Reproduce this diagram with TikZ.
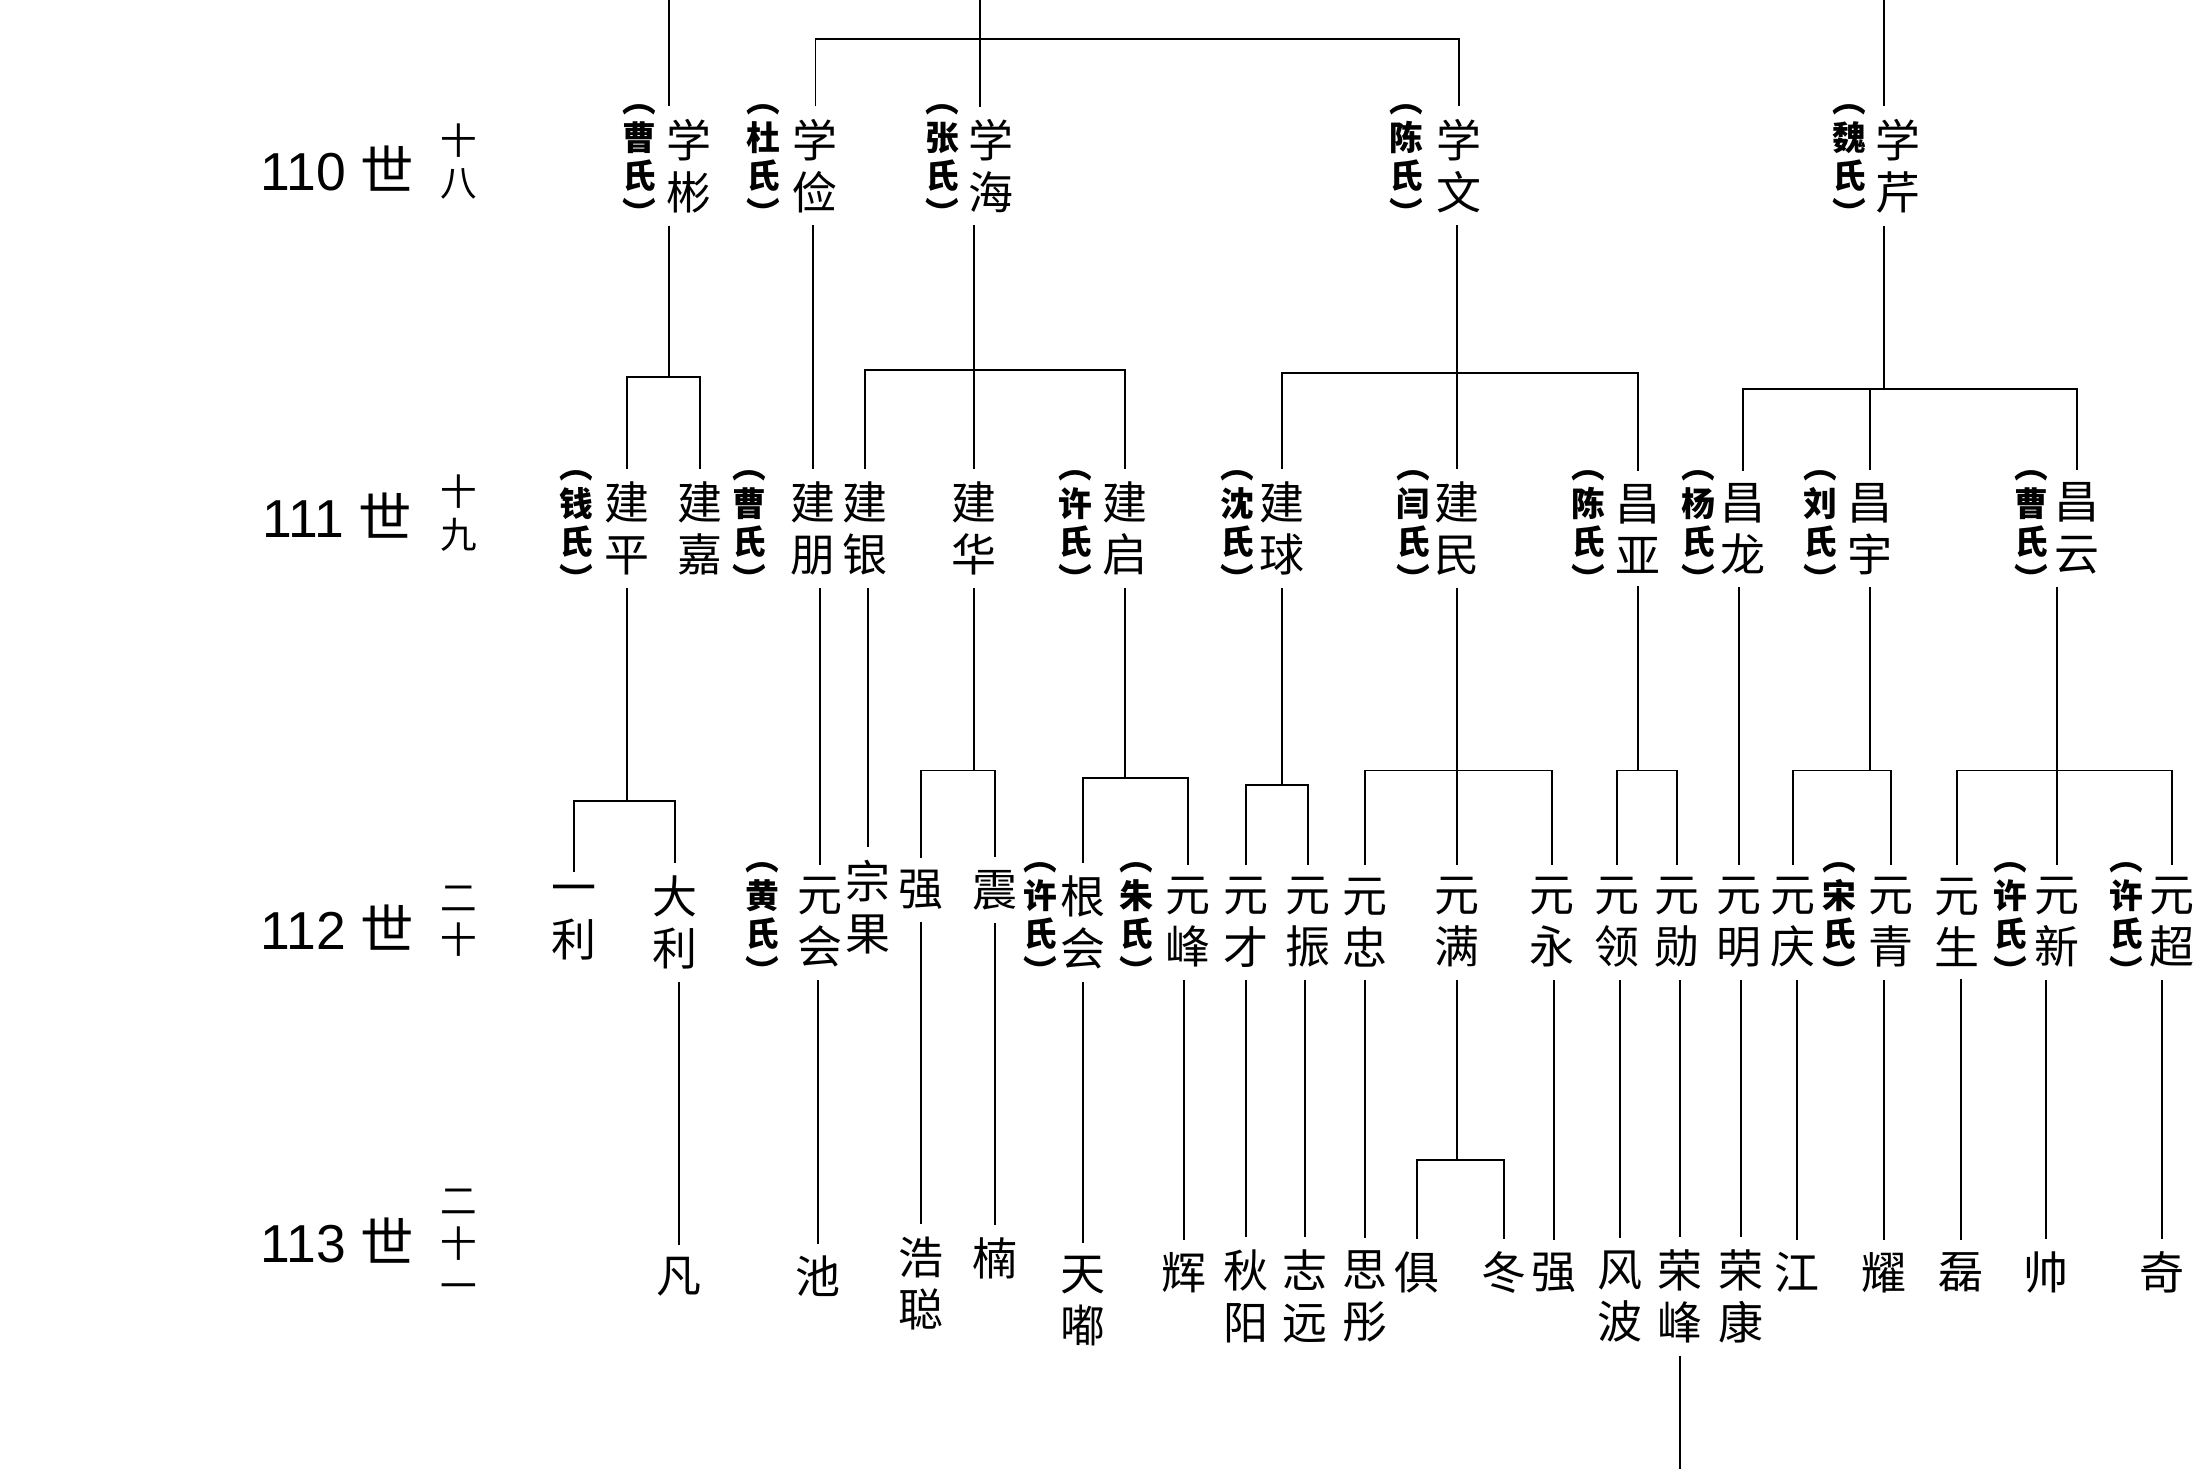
\documentclass[tikz,border=0pt]{standalone}
\usepackage{fontspec}
\setmainfont{Liberation Sans}
\newfontfamily\cjk{Noto Sans CJK SC}
\usetikzlibrary{positioning}

\tikzset{
  nm/.style={font=\cjk\fontsize{32}{37}\selectfont,align=center,inner sep=0pt,outer sep=9pt},
  sp/.style={font=\cjk\bfseries\fontsize{24}{27}\selectfont,align=center,inner sep=0pt},
  gen/.style={font=\fontsize{38}{42}\selectfont,inner sep=0pt},
  gnum/.style={font=\cjk\fontsize{26}{30}\selectfont,align=center,inner sep=0pt},
  ln/.style={line width=1.4pt}
}
% fork from a parent to its first and last child, bar at height #2
\newcommand\forkto[4]{%
  \draw[ln] (#1.south) -- (#1.south |- 0,#2);
  \draw[ln] (#3.north) -- (#3.north |- 0,#2) -- (#4.north |- 0,#2) -- (#4.north);}
\newcommand\linkto[2]{\draw[ln] (#2.north |- #1.south) -- (#2.north);}

\begin{document}
\begin{tikzpicture}[x=1pt,y=-1pt]
\useasboundingbox (0,0) rectangle (1564,1045);

% generations
\node[gen] (g110) at (240,120) {110 {\cjk 世}};
\node[gen] (g111) at (240,367) {111 {\cjk 世}};
\node[gen] (g112) at (240,660) {112 {\cjk 世}};
\node[gen] (g113) at (240,882) {113 {\cjk 世}};
\node[gnum] (n110) at (326,115) {十\\八};
\node[gnum] (n111) at (326,365) {十\\九};
\node[gnum] (n112) at (326,655) {二\\十};
\node[gnum] (n113) at (326,885) {二\\十\\一};

% 110
\node[nm] (xb) at (490,118) {学\\彬};
\node[nm] (xj) at (580,118) {学\\俭};
\node[nm] (xh) at (705,118) {学\\海};
\node[nm] (xw) at (1038,118) {学\\文};
\node[nm] (xq) at (1350,118) {学\\芹};

% 111
\node[nm] (jp) at (446,376) {建\\平};
\node[nm] (jx) at (498,376) {建\\嘉};
\node[nm] (jpe) at (578,376) {建\\朋};
\node[nm] (jy) at (615,376) {建\\银};
\node[nm] (jh) at (693,376) {建\\华};
\node[nm] (jq) at (800,376) {建\\启};
\node[nm] (jqi) at (912,376) {建\\球};
\node[nm] (jm) at (1036,376) {建\\民};
\node[nm] (cy) at (1165,376) {昌\\亚};
\node[nm] (cl) at (1240,376) {昌\\龙};
\node[nm] (cyu) at (1330,376) {昌\\宇};
\node[nm] (cyun) at (1477,376) {昌\\云};

% 112
\node[nm] (yl) at (408,656) {一\\利};
\node[nm] (dl) at (480,656) {大\\利};
\node[nm] (yh) at (583,656) {元\\会};
\node[nm] (zg) at (617,645) {宗\\果};
\node[nm] (qa) at (655,633) {强};
\node[nm] (zh) at (708,633) {震};
\node[nm] (gh) at (770,656) {根\\会};
\node[nm] (yf) at (845,656) {元\\峰};
\node[nm] (yc) at (886,656) {元\\才};
\node[nm] (yz) at (930,656) {元\\振};
\node[nm] (yzh) at (971,656) {元\\忠};
\node[nm] (ym) at (1036,656) {元\\满};
\node[nm] (yy) at (1104,656) {元\\永};
\node[nm] (yli) at (1150,656) {元\\领};
\node[nm] (yx) at (1193,656) {元\\勋};
\node[nm] (ymi) at (1237,656) {元\\明};
\node[nm] (yq) at (1275,656) {元\\庆};
\node[nm] (yqi) at (1345,656) {元\\青};
\node[nm] (ys) at (1392,656) {元\\生};
\node[nm] (yxi) at (1463,656) {元\\新};
\node[nm] (ych) at (1545,656) {元\\超};

% 113
\node[nm] (fan) at (483,908) {凡};
\node[nm] (chi) at (582,908) {池};
\node[nm] (hc) at (655,913) {浩\\聪};
\node[nm] (nan) at (708,895) {楠};
\node[nm] (td) at (770,925) {天\\嘟};
\node[nm] (hui) at (842,905) {辉};
\node[nm] (qy) at (886,922) {秋\\阳};
\node[nm] (zy) at (928,922) {志\\远};
\node[nm] (st) at (971,922) {思\\彤};
\node[nm] (ju) at (1008,905) {俱};
\node[nm] (dong) at (1070,905) {冬};
\node[nm] (qiang) at (1105,905) {强};
\node[nm] (fb) at (1152,922) {风\\波};
\node[nm] (rf) at (1195,922) {荣\\峰};
\node[nm] (rk) at (1238,922) {荣\\康};
\node[nm] (jiang) at (1278,905) {江};
\node[nm] (yao) at (1340,905) {耀};
\node[nm] (lei) at (1395,905) {磊};
\node[nm] (shuai) at (1455,905) {帅};
\node[nm] (qi) at (1538,905) {奇};

% spouses
\foreach \x/\y/\s [count=\i] in {455/118/曹,543/118/杜,670/118/张,1000/118/陈,1315/118/魏,
  410/378/钱,533/378/曹,765/378/许,880/378/沈,1005/378/闫,1130/378/陈,1208/378/杨,1295/378/刘,1445/378/曹,
  542/657/黄,740/657/许,808/657/朱,1308/657/宋,1430/657/许,1512/657/许}
  \node[sp] (sp\i) at (\x,\y) {︵\\\s\\氏\\︶};

% top
\coordinate (t1) at (476,0);
\coordinate (t2) at (697,0);
\coordinate (t3) at (1340,0);
\draw[ln] (t1) -- (t1 |- xb.north);
\draw[ln] (t2) -- (t2 |- xh.north);
\draw[ln] (t3) -- (t3 |- xq.north);
\draw[ln] (xj.north) -- (xj.north |- 0,28) -- (xw.north |- 0,28) -- (xw.north);

% 110 -> 111
\draw[ln] (t1 |- xb.south) -- (t1 |- 0,268);
\draw[ln] (jp.north) -- (jp.north |- 0,268) -- (jx.north |- 0,268) -- (jx.north);
\linkto{xj}{jpe}
\linkto{xh}{jh}
\draw[ln] (jy.north) -- (jy.north |- 0,263) -- (jq.north |- 0,263) -- (jq.north);
\linkto{xw}{jm}
\draw[ln] (jqi.north) -- (jqi.north |- 0,265) -- (cy.north |- 0,265) -- (cy.north);
\draw[ln] (t3 |- xq.south) -- (t3 |- 0,277);
\draw[ln] (cyu.north) -- (cyu.north |- 0,277);
\draw[ln] (cl.north) -- (cl.north |- 0,277) -- (cyun.north |- 0,277) -- (cyun.north);

% 111 -> 112
\forkto{jp}{570}{yl}{dl}
\linkto{jpe}{yh}
\linkto{jy}{zg}
\forkto{jh}{548}{qa}{zh}
\forkto{jq}{553}{gh}{yf}
\forkto{jqi}{558}{yc}{yz}
\forkto{jm}{548}{yzh}{yy}
\linkto{jm}{ym}
\forkto{cy}{548}{yli}{yx}
\linkto{cl}{ymi}
\forkto{cyu}{548}{yq}{yqi}
\draw[ln] (yxi.north |- cyun.south) -- (yxi.north);
\draw[ln] (ys.north) -- (ys.north |- 0,548) -- (ych.north |- 0,548) -- (ych.north);

% 112 -> 113
\foreach \a/\b in {dl/fan,yh/chi,qa/hc,zh/nan,gh/td,yf/hui,yc/qy,yz/zy,yzh/st,yy/qiang,
  yli/fb,yx/rf,ymi/rk,yq/jiang,yqi/yao,ys/lei,yxi/shuai,ych/qi}
  {\linkto{\a}{\b}}
\forkto{ym}{825}{ju}{dong}

\coordinate (bot) at (1195,1045);
\draw[ln] (rf.south) -- (bot);
\end{tikzpicture}
\end{document}
